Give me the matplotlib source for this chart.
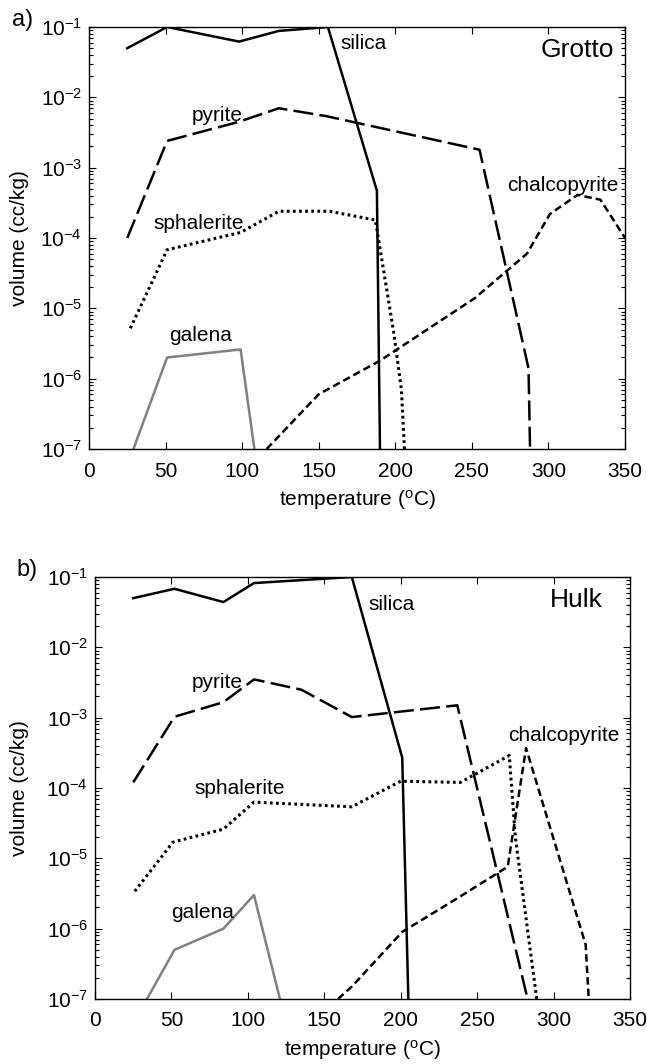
#Import libraries
import matplotlib
matplotlib.use("Agg")
import matplotlib.pyplot as plt

plt.rcParams["font.family"] = ["Liberation Sans", "DejaVu Sans"]
plt.rcParams["mathtext.default"] = "regular"
plt.rcParams["axes.unicode_minus"] = False

#Panel a) Grotto  (temperature in C, volume in cc/kg)
silica_a_T = [25, 51, 98, 124, 156, 188, 190]
silica_a_V = [5e-2, 1e-1, 6.2e-2, 8.8e-2, 1e-1, 4.7e-4, 1e-7]
pyrite_a_T = [25, 51, 98, 124, 155, 255, 287, 288]
pyrite_a_V = [1e-4, 2.4e-3, 4.5e-3, 7e-3, 5.4e-3, 1.8e-3, 1.4e-6, 1e-7]
sphalerite_a_T = [27, 51, 99, 124, 157, 187, 199, 204, 206]
sphalerite_a_V = [5.2e-6, 6.8e-5, 1.2e-4, 2.4e-4, 2.4e-4, 1.8e-4, 4.5e-6, 7e-7, 1e-7]
chalcopyrite_a_T = [116, 150, 190, 252, 286, 301, 319, 334, 350]
chalcopyrite_a_V = [1e-7, 6e-7, 1.8e-6, 1.4e-5, 6e-5, 2.2e-4, 4.1e-4, 3.5e-4, 1e-4]
galena_a_T = [29, 51, 99, 108]
galena_a_V = [1e-7, 2e-6, 2.6e-6, 1e-7]

#Panel b) Hulk
silica_b_T = [25, 52, 84, 104, 168, 201, 205]
silica_b_V = [5e-2, 6.8e-2, 4.4e-2, 8.2e-2, 1e-1, 2.7e-4, 1e-7]
pyrite_b_T = [25, 52, 84, 104, 135, 168, 237, 283]
pyrite_b_V = [1.2e-4, 1.03e-3, 1.66e-3, 3.5e-3, 2.5e-3, 1.02e-3, 1.5e-3, 1e-7]
sphalerite_b_T = [26, 51, 84, 104, 168, 200, 239, 271, 275, 285, 289]
sphalerite_b_V = [3.4e-6, 1.7e-5, 2.6e-5, 6.3e-5, 5.4e-5, 1.25e-4, 1.2e-4, 2.9e-4, 2e-5, 4.5e-7, 1e-7]
chalcopyrite_b_T = [159, 168, 201, 237, 270, 282, 321, 323]
chalcopyrite_b_V = [1e-7, 1.5e-7, 9e-7, 2.7e-6, 7.6e-6, 3.7e-4, 5.9e-7, 1e-7]
galena_b_T = [34, 52, 84, 104, 121]
galena_b_V = [1e-7, 5e-7, 1e-6, 3e-6, 1e-7]

x_ticks = [0, 50, 100, 150, 200, 250, 300, 350]

#Line styles for each mineral
styles = {
    "silica": dict(color="black", linestyle="-", linewidth=1.8),
    "pyrite": dict(color="black", dashes=(8, 2.5), linewidth=1.8),
    "sphalerite": dict(color="black", dashes=(0.9, 1.1), linewidth=2.2),
    "chalcopyrite": dict(color="black", dashes=(3, 1.6), linewidth=1.8),
    "galena": dict(color="#808080", linestyle="-", linewidth=1.8),
}

panels = [
    {
        "rect": [89 / 647, 1 - 449 / 1064, 536 / 647, 422 / 1064],
        "letter": "a)", "letter_pos": (12 / 647, 1 - 20 / 1064),
        "name": "Grotto",
        "series": {
            "silica": (silica_a_T, silica_a_V),
            "pyrite": (pyrite_a_T, pyrite_a_V),
            "sphalerite": (sphalerite_a_T, sphalerite_a_V),
            "chalcopyrite": (chalcopyrite_a_T, chalcopyrite_a_V),
            "galena": (galena_a_T, galena_a_V),
        },
        "labels": {
            "silica": (164, 5.9e-2),
            "pyrite": (67, 5.6e-3),
            "sphalerite": (42, 1.6e-4),
            "chalcopyrite": (273, 5.6e-4),
            "galena": (52, 4.1e-6),
        },
        "name_pos": (343, 4.7e-2),
    },
    {
        "rect": [95 / 647, 1 - 999 / 1064, 535 / 647, 422 / 1064],
        "letter": "b)", "letter_pos": (16 / 647, 1 - 570 / 1064),
        "name": "Hulk",
        "series": {
            "silica": (silica_b_T, silica_b_V),
            "pyrite": (pyrite_b_T, pyrite_b_V),
            "sphalerite": (sphalerite_b_T, sphalerite_b_V),
            "chalcopyrite": (chalcopyrite_b_T, chalcopyrite_b_V),
            "galena": (galena_b_T, galena_b_V),
        },
        "labels": {
            "silica": (179, 4e-2),
            "pyrite": (63, 3.2e-3),
            "sphalerite": (65, 9.8e-5),
            "chalcopyrite": (270, 5.6e-4),
            "galena": (50, 1.7e-6),
        },
        "name_pos": (332, 4.7e-2),
    },
]

fig = plt.figure(figsize=(6.47, 10.64), dpi=100)

for p in panels:
    ax = fig.add_axes(p["rect"])

    #Plot every mineral curve
    for mineral, (T, V) in p["series"].items():
        ax.plot(T, V, **styles[mineral])

    #Text labels next to the curves
    for mineral, (tx, ty) in p["labels"].items():
        ax.text(tx, ty, mineral, fontsize=15, ha="left", va="center")
    ax.text(p["name_pos"][0], p["name_pos"][1], p["name"], fontsize=19,
            ha="right", va="center")

    ax.set_yscale("log")
    ax.set_xlim(0, 350)
    ax.set_ylim(1e-7, 1e-1)
    ax.set_xticks(x_ticks)
    ax.tick_params(which="both", direction="in", top=True, right=True,
                   labelsize=15, width=0.8)
    ax.tick_params(which="major", length=5)
    ax.tick_params(which="minor", length=3)
    ax.tick_params(axis="x", pad=9)
    ax.tick_params(axis="y", pad=5)
    for s in ax.spines.values():
        s.set_linewidth(1.0)

    ax.set_xlabel("temperature ($^{o}$C)", fontsize=15)
    ax.xaxis.set_label_coords(0.5, -0.122)
    ax.xaxis.label.set_va("center")
    ax.set_ylabel("volume (cc/kg)", fontsize=15)
    ax.yaxis.label.set_va("center")
    left_px = p["rect"][0] * 647
    ax.yaxis.set_label_coords((20 - left_px) / (p["rect"][2] * 647), 0.5)

    fig.text(p["letter_pos"][0], p["letter_pos"][1], p["letter"],
             fontsize=17, ha="left", va="center")

#Save the figure
plt.savefig("out.png", dpi=100)
